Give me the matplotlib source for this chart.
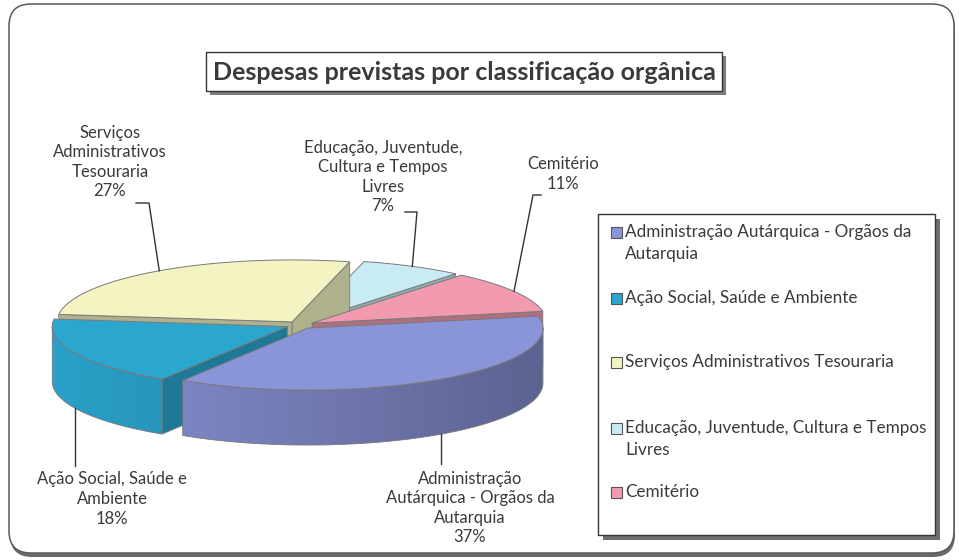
import numpy as np
import matplotlib.pyplot as plt
from matplotlib.patches import Polygon, Rectangle, FancyBboxPatch
from matplotlib.colors import to_rgb

plt.rcParams['font.family'] = ['Lato', 'DejaVu Sans']

# data
categories = ["Administração Autárquica - Orgãos da Autarquia",
              "Ação Social, Saúde e Ambiente",
              "Serviços Administrativos Tesouraria",
              "Educação, Juventude, Cultura e Tempos Livres",
              "Cemitério"]
shares = [37, 18, 27, 7, 11]
slice_labels = ["Administração\nAutárquica - Orgãos da\nAutarquia",
                "Ação Social, Saúde e\nAmbiente",
                "Serviços\nAdministrativos\nTesouraria",
                "Educação, Juventude,\nCultura e Tempos\nLivres",
                "Cemitério"]
legend_labels = ["Administração Autárquica - Orgãos da\nAutarquia",
                 "Ação Social, Saúde e Ambiente",
                 "Serviços Administrativos Tesouraria",
                 "Educação, Juventude, Cultura e Tempos\nLivres",
                 "Cemitério"]
colors = ["#8a94d8", "#2ba6cf", "#f3f4c2", "#c9ecf4", "#f29ab0"]
title = "Despesas previstas por classificação orgânica"

# pie layout (pixels)
cx, cy = 300, 325
rx, ry = 235, 62
depth = 55
explode = 0.06
start = 11.0  # degrees, first slice starts here and runs clockwise

# label layout
label_pos = [(470, 508), (112, 499), (110, 162), (383, 177), (563, 174)]
leader_mid = [[(None, 464)], [(None, 466)],
              [(136, 203), (149, 203)], [(405, 212), (417, 212)],
              [(541, 195), (533, 195)]]

TXT = "#3a3a3a"
EDGE = "#7a7a7a"

fig = plt.figure(figsize=(9.59, 5.6), dpi=100)
ax = fig.add_axes([0, 0, 1, 1])
ax.set_xlim(0, 959)
ax.set_ylim(560, 0)
ax.axis("off")


def shade(c, f):
    r, g, b = to_rgb(c)
    return (r * f, g * f, b * f)


def pt(t, dx, dy, z=0):
    r = np.radians(t)
    return (cx + dx + rx * np.cos(r), cy + dy - ry * np.sin(r) + z)


# outer frame with bottom shadow
ax.add_patch(FancyBboxPatch((10, 7), 945, 550, boxstyle="round,pad=0,rounding_size=22",
                            fc="#6a6a6a", ec="none", zorder=0))
ax.add_patch(FancyBboxPatch((9, 4), 945, 549, boxstyle="round,pad=0,rounding_size=22",
                            fc="white", ec="#5a5a5a", lw=1.1, zorder=0))

# slice angles
slices = []
cum = 0
for i, s in enumerate(shares):
    b = start - cum * 3.6
    a = b - s * 3.6
    cum += s
    mid = (a + b) / 2
    dx = explode * rx * np.cos(np.radians(mid))
    dy = -explode * ry * np.sin(np.radians(mid))
    slices.append((i, a, b, mid, dx, dy))

# painter's order: back slices first
order = sorted(slices, key=lambda s: -np.sin(np.radians(s[3])))

z = 2
for i, a, b, mid, dx, dy in order:
    col = colors[i]
    apex = (cx + dx, cy + dy)
    # cut faces
    for t, vis in ((a, np.cos(np.radians(a)) > 0), (b, np.cos(np.radians(b)) < 0)):
        if vis:
            p1 = pt(t, dx, dy)
            p2 = pt(t, dx, dy, depth)
            quad = [apex, p1, p2, (apex[0], apex[1] + depth)]
            ax.add_patch(Polygon(quad, closed=True, fc=shade(col, 0.72),
                                 ec=EDGE, lw=0.6, zorder=z))
    # outer wall on the front half, shaded left to right
    for k in (-1, 0, 1):
        lo = max(a, -180 + 360 * k)
        hi = min(b, 0 + 360 * k)
        if hi <= lo:
            continue
        ts = np.linspace(lo, hi, 200)
        outline = [pt(t, dx, dy) for t in ts] + [pt(t, dx, dy, depth) for t in ts[::-1]]
        wall = Polygon(outline, closed=True, fc="none", ec=EDGE, lw=0.6, zorder=z + 0.2)
        ax.add_patch(wall)
        xs = np.linspace(cx + dx - rx, cx + dx + rx, 300)
        c = np.clip((xs - cx - dx) / rx, -1, 1)
        f = 0.82 - 0.15 * c
        img = np.array([shade(col, v) for v in f])[None, :, :]
        ys = [p[1] for p in outline]
        im = ax.imshow(img, extent=(xs[0], xs[-1], max(ys), min(ys)),
                       aspect="auto", interpolation="bilinear", zorder=z + 0.1)
        im.set_clip_path(wall)
    # top face
    ts = np.linspace(a, b, 120)
    top = [apex] + [pt(t, dx, dy) for t in ts]
    ax.add_patch(Polygon(top, closed=True, fc=col, ec=EDGE, lw=0.7, zorder=z + 0.3))
    z += 1

ax.set_xlim(0, 959)
ax.set_ylim(560, 0)

# data labels with leader lines
for i, a, b, mid, dx, dy in slices:
    front = np.sin(np.radians(mid)) < 0
    anchor = pt(mid, dx, dy, depth if front else 0)
    pts = [(anchor[0] if x is None else x, y) for x, y in leader_mid[i]] + [anchor]
    ax.plot([p[0] for p in pts], [p[1] for p in pts], color="#333333", lw=1.0, zorder=10)
    ax.text(label_pos[i][0], label_pos[i][1], f"{slice_labels[i]}\n{shares[i]}%",
            ha="center", va="center", fontsize=12, color=TXT, linespacing=1.27, zorder=10)

# title box
ax.add_patch(Rectangle((210, 56), 516, 39, fc="#7d7d7d", ec="none", zorder=10))
ax.add_patch(Rectangle((206, 52), 516, 39, fc="white", ec="#333333", lw=1.0, zorder=10))
ax.text(464, 72, title, ha="center", va="center", fontsize=18,
        fontweight="bold", color="#3a3a3a", zorder=11)

# legend box
ax.add_patch(Rectangle((603, 219), 337, 321, fc="#6e6e6e", ec="none", zorder=10))
ax.add_patch(Rectangle((598, 214), 337, 321, fc="white", ec="#333333", lw=1.0, zorder=10))
legend_y = [232, 298, 362, 428, 492]
for i, y in enumerate(legend_y):
    ax.add_patch(Rectangle((611, y - 5), 11, 11, fc=colors[i], ec="#555555", lw=0.8, zorder=11))
    ax.text(625, y - 8, legend_labels[i], ha="left", va="top", fontsize=12.3,
            color=TXT, linespacing=1.45, zorder=11)

fig.savefig("out.png", dpi=100, facecolor="white")
